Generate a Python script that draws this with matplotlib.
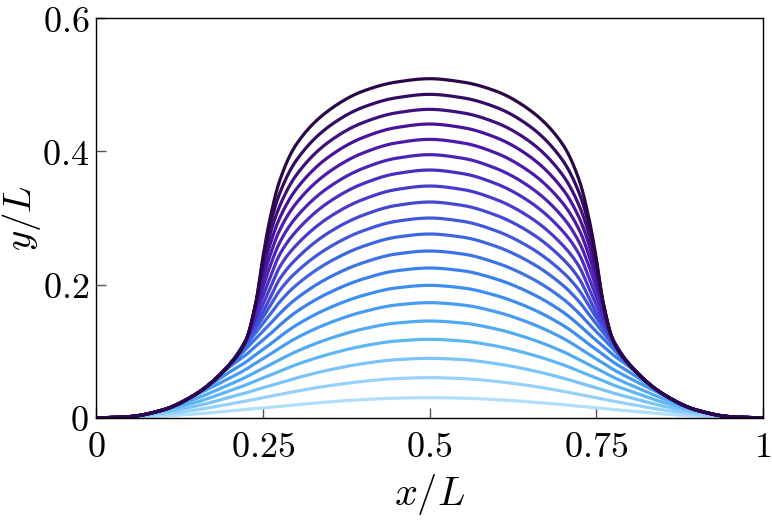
import numpy as np
import matplotlib
matplotlib.use("Agg")
import matplotlib.pyplot as plt
from matplotlib.colors import LinearSegmentedColormap

# x stations on the left half (profiles are symmetric about x/L = 0.5)
x_half = [0, 0.05, 0.1, 0.15, 0.2, 0.225, 0.24, 0.25, 0.26, 0.275, 0.3, 0.35, 0.4, 0.45, 0.5]

# y/L read at each station, one row per curve (lowest to highest)
profiles = [
    [0, .0008, .0029, .0061, .0105, .0128, .0143, .0153, .0162, .0175, .0200, .0242, .0276, .0298, .0305],
    [0, .0015, .0057, .0121, .0209, .0254, .0285, .0304, .0323, .0352, .0401, .0485, .0549, .0591, .0605],
    [0, .0020, .0085, .0179, .0309, .0376, .0424, .0452, .0481, .0525, .0599, .0722, .0815, .0875, .0895],
    [0, .0020, .0112, .0236, .0407, .0497, .0560, .0599, .0638, .0700, .0799, .0959, .1079, .1154, .1180],
    [0, .0020, .0120, .0291, .0502, .0614, .0693, .0743, .0793, .0872, .0996, .1191, .1335, .1424, .1455],
    [0, .0020, .0120, .0346, .0597, .0731, .0827, .0888, .0949, .1047, .1197, .1427, .1592, .1695, .1730],
    [0, .0020, .0120, .0360, .0687, .0842, .0954, .1026, .1099, .1216, .1391, .1653, .1837, .1951, .1990],
    [0, .0020, .0120, .0360, .0765, .0950, .1082, .1166, .1251, .1389, .1590, .1882, .2084, .2208, .2250],
    [0, .0020, .0120, .0360, .0775, .1040, .1195, .1297, .1400, .1562, .1788, .2111, .2328, .2460, .2505],
    [0, .0020, .0120, .0360, .0790, .1095, .1285, .1412, .1540, .1737, .1991, .2342, .2574, .2712, .2760],
    [0, .0020, .0120, .0360, .0798, .1140, .1355, .1505, .1665, .1907, .2186, .2563, .2807, .2950, .3000],
    [0, .0020, .0120, .0360, .0800, .1165, .1410, .1585, .1780, .2079, .2385, .2788, .3041, .3188, .3240],
    [0, .0020, .0120, .0360, .0800, .1170, .1475, .1695, .1925, .2260, .2590, .3015, .3277, .3427, .3480],
    [0, .0020, .0120, .0360, .0800, .1170, .1550, .1820, .2080, .2445, .2800, .3245, .3514, .3666, .3720],
    [0, .0020, .0120, .0360, .0800, .1170, .1620, .1950, .2250, .2625, .3010, .3469, .3743, .3896, .3950],
    [0, .0020, .0120, .0360, .0800, .1170, .1670, .2070, .2410, .2810, .3220, .3696, .3974, .4126, .4180],
    [0, .0020, .0120, .0360, .0800, .1170, .1710, .2180, .2570, .2990, .3430, .3925, .4206, .4356, .4410],
    [0, .0020, .0120, .0360, .0800, .1170, .1730, .2270, .2720, .3170, .3640, .4149, .4430, .4577, .4630],
    [0, .0020, .0120, .0360, .0800, .1170, .1750, .2350, .2850, .3360, .3860, .4379, .4660, .4803, .4855],
    [0, .0020, .0120, .0360, .0800, .1170, .1750, .2400, .2950, .3550, .4100, .4622, .4902, .5039, .5090],
]

x_ticks = [0, 0.25, 0.5, 0.75, 1]
x_ticklabels = ["0", "0.25", "0.5", "0.75", "1"]
y_ticks = [0, 0.2, 0.4, 0.6]
y_ticklabels = ["0", "0.2", "0.4", "0.6"]


def pchip(x, y, xs):
    # monotone cubic through the read points, just to draw a smooth line
    x = np.asarray(x, float)
    y = np.asarray(y, float)
    h = np.diff(x)
    d = np.diff(y) / h
    m = np.zeros_like(y)
    m[0], m[-1] = d[0], d[-1]
    for i in range(1, len(x) - 1):
        if d[i - 1] * d[i] > 0:
            w1 = 2 * h[i] + h[i - 1]
            w2 = h[i] + 2 * h[i - 1]
            m[i] = (w1 + w2) / (w1 / d[i - 1] + w2 / d[i])
    idx = np.clip(np.searchsorted(x, xs) - 1, 0, len(x) - 2)
    t = (xs - x[idx]) / h[idx]
    h00 = 2 * t**3 - 3 * t**2 + 1
    h10 = t**3 - 2 * t**2 + t
    h01 = -2 * t**3 + 3 * t**2
    h11 = t**3 - t**2
    return (h00 * y[idx] + h10 * h[idx] * m[idx]
            + h01 * y[idx + 1] + h11 * h[idx] * m[idx + 1])


plt.rcParams["mathtext.fontset"] = "cm"
plt.rcParams["font.family"] = "serif"
plt.rcParams["font.serif"] = ["DejaVu Serif"]

cmap = LinearSegmentedColormap.from_list(
    "bluepurple",
    ["#b0defb", "#5ab4f5", "#3a8af0", "#3f5ee0", "#4a30c8", "#4b13a0", "#2a0848"])

fig = plt.figure(figsize=(7.72, 5.24), dpi=100)
ax = fig.add_axes([0.1244, 0.2023, 0.8639, 0.7633])

xh = np.array(x_half)
x_full = np.concatenate([xh, 1 - xh[-2::-1]])
xs = np.linspace(0, 1, 1601)
n = len(profiles)
for k, row in enumerate(profiles):
    yh = np.array(row)
    y_full = np.concatenate([yh, yh[-2::-1]])
    ax.plot(xs, pchip(x_full, y_full, xs), color=cmap(k / (n - 1)), lw=2.3,
            solid_capstyle="round")

ax.set_xlim(0, 1)
ax.set_ylim(0, 0.6)
ax.set_xticks(x_ticks)
ax.set_xticklabels(["$%s$" % s for s in x_ticklabels])
ax.set_yticks(y_ticks)
ax.set_yticklabels(["$%s$" % s for s in y_ticklabels])
ax.tick_params(direction="in", length=7, width=1, color="#555555",
               labelsize=26)
ax.tick_params(axis="x", pad=9)
ax.tick_params(axis="y", pad=5)
for sp in ax.spines.values():
    sp.set_linewidth(1.0)
ax.set_xlabel("$x/L$", fontsize=29)
ax.set_ylabel("$y/L$", fontsize=28)
ax.xaxis.set_label_coords(0.5, -0.135)
ax.yaxis.set_label_coords(-0.08, 0.5)

plt.savefig("out.png", dpi=100)
